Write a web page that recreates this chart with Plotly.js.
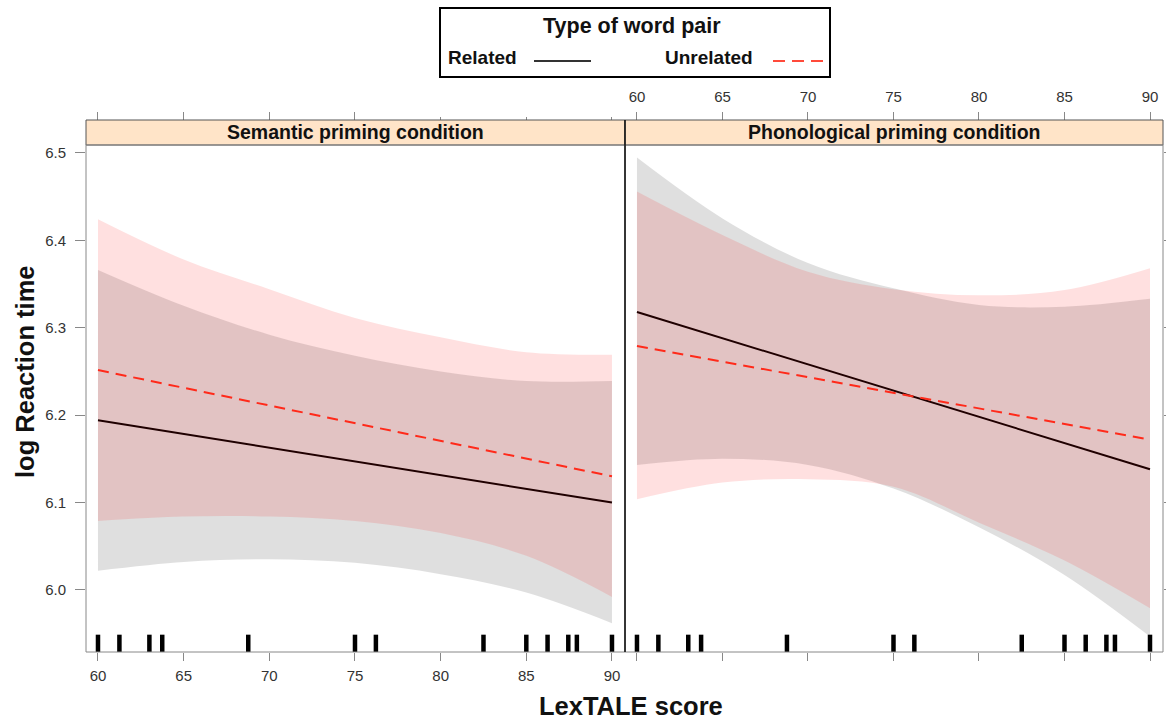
<!DOCTYPE html>
<html>
<head>
<meta charset="utf-8">
<script src="https://cdn.plot.ly/plotly-3.0.1.min.js"></script>
<style>
  html, body { margin: 0; padding: 0; background: #ffffff; }
  #chart { width: 1166px; height: 722px; }
</style>
</head>
<body>
<div id="chart"></div>
<script>
// ---------------- data ----------------
const panelTitles = ['Semantic priming condition', 'Phonological priming condition'];
const seriesNames = ['Related', 'Unrelated'];
const legendTitle = 'Type of word pair';
const xTitle = 'LexTALE score';
const yTitle = 'log Reaction time';

const xTicks = [60, 65, 70, 75, 80, 85, 90];
const xTicksTopLeftLong = [60, 65, 70, 75];
const xTicksTopLeftShort = [80, 85, 90];
const yTicks = [6.0, 6.1, 6.2, 6.3, 6.4, 6.5];

// x positions where band edges were read
const bandX = [60, 65, 70, 75, 80, 85, 90];
// end points of fitted lines
const lineX = [60, 90];

// Semantic priming condition
const semRelatedLine   = [6.194, 6.100];
const semUnrelatedLine = [6.2515, 6.130];
const semRelatedUpper   = [6.366, 6.325, 6.292, 6.268, 6.250, 6.239, 6.239];
const semRelatedLower   = [6.022, 6.032, 6.035, 6.031, 6.018, 5.997, 5.962];
const semUnrelatedUpper = [6.424, 6.378, 6.344, 6.311, 6.289, 6.272, 6.269];
const semUnrelatedLower = [6.079, 6.084, 6.084, 6.079, 6.065, 6.039, 5.992];

// Phonological priming condition
const phoRelatedLine   = [6.318, 6.138];
const phoUnrelatedLine = [6.279, 6.172];
const phoRelatedUpper   = [6.4946, 6.425, 6.374, 6.345, 6.326, 6.324, 6.333];
const phoRelatedLower   = [6.143, 6.150, 6.143, 6.116, 6.0717, 6.017, 5.9466];
const phoUnrelatedUpper = [6.4557, 6.406, 6.364, 6.344, 6.337, 6.343, 6.368];
const phoUnrelatedLower = [6.1037, 6.1228, 6.1266, 6.118, 6.077, 6.0336, 5.979];

// rug of observed LexTALE scores
const rugScores = [60, 61.25, 63.0, 63.75, 68.77, 75, 76.22, 82.5, 85, 86.24, 87.45, 87.95, 90];

// ---------------- styling ----------------
const W = 1166, H = 722;
const px = v => v / W;
const py = v => 1 - v / H;
const FONT = 'Liberation Sans, Arial, sans-serif';
const GRAY_FILL = 'rgba(128,128,128,0.25)';
const PINK_FILL = 'rgba(255,0,0,0.12)';
const REL_COLOR = '#000000';
const UNREL_COLOR = '#ff2a1a';
const RUG_LEVEL = 5.9376;
const xRange = [59.3, 90.76];
const yRange = [5.929, 6.509];

const panelL = [86, 625], panelR = [625, 1163];
const panelTop = 145, panelBottom = 652, stripTop = 120;

function panelTraces(xa, ya, relLine, unrelLine, relUp, relLo, unUp, unLo) {
  const common = { xaxis: xa, yaxis: ya, showlegend: false, hoverinfo: 'skip' };
  const edge = { width: 0, shape: 'spline', color: 'rgba(0,0,0,0)' };
  return [
    Object.assign({ type: 'scatter', mode: 'lines', x: bandX, y: relLo, line: edge }, common),
    Object.assign({ type: 'scatter', mode: 'lines', x: bandX, y: relUp, fill: 'tonexty',
      fillcolor: GRAY_FILL, line: edge }, common),
    Object.assign({ type: 'scatter', mode: 'lines', x: lineX, y: relLine,
      line: { width: 2, color: REL_COLOR } }, common),
    Object.assign({ type: 'scatter', mode: 'lines', x: bandX, y: unLo, line: edge }, common),
    Object.assign({ type: 'scatter', mode: 'lines', x: bandX, y: unUp, fill: 'tonexty',
      fillcolor: PINK_FILL, line: edge }, common),
    Object.assign({ type: 'scatter', mode: 'lines', x: lineX, y: unrelLine,
      line: { width: 2, color: UNREL_COLOR, dash: '11px,7px' } }, common),
    Object.assign({ type: 'scatter', mode: 'markers', x: rugScores, y: rugScores.map(() => RUG_LEVEL),
      marker: { symbol: 'line-ns-open', size: 14, color: '#000', line: { width: 4.5, color: '#000' } } }, common)
  ];
}

const traces = [].concat(
  panelTraces('x', 'y', semRelatedLine, semUnrelatedLine, semRelatedUpper, semRelatedLower, semUnrelatedUpper, semUnrelatedLower),
  panelTraces('x2', 'y2', phoRelatedLine, phoUnrelatedLine, phoRelatedUpper, phoRelatedLower, phoUnrelatedUpper, phoUnrelatedLower),
  [
    { type: 'scatter', mode: 'markers', x: [75], y: [6.2], xaxis: 'x3', yaxis: 'y', opacity: 0, showlegend: false, hoverinfo: 'skip' },
    { type: 'scatter', mode: 'markers', x: [75], y: [6.2], xaxis: 'x4', yaxis: 'y2', opacity: 0, showlegend: false, hoverinfo: 'skip' }
  ]
);

const tickFont = { family: FONT, size: 15, color: '#333' };
const baseX = {
  range: xRange, tickvals: xTicks, ticks: 'outside', ticklen: 8, tickwidth: 1, tickcolor: '#888',
  showgrid: false, zeroline: false, showline: false, tickfont: tickFont, fixedrange: true
};
const baseY = {
  range: yRange, tickvals: yTicks, tickformat: '.1f', ticks: 'outside', ticklen: 10, tickwidth: 1, tickcolor: '#888',
  showgrid: false, zeroline: false, showline: false, tickfont: tickFont, fixedrange: true,
  domain: [py(panelBottom), py(panelTop)]
};
const dom1 = [px(panelL[0]), px(panelR[0])];
const dom2 = [px(panelL[1]), px(panelR[1])];

const shapes = [];
[0, 1].forEach(i => {
  shapes.push({ type: 'rect', xref: 'paper', yref: 'paper', x0: px(panelL[i]), x1: px(panelR[i]),
    y0: py(panelTop), y1: py(stripTop), fillcolor: '#FFE4C8', line: { color: '#555', width: 1 }, layer: 'above' });
  shapes.push({ type: 'rect', xref: 'paper', yref: 'paper', x0: px(panelL[i]), x1: px(panelR[i]),
    y0: py(panelBottom), y1: py(panelTop), fillcolor: 'rgba(0,0,0,0)', line: { color: '#888', width: 1 }, layer: 'above' });
});
shapes.push({ type: 'line', xref: 'paper', yref: 'paper', x0: px(625), x1: px(625), y0: py(panelBottom), y1: py(stripTop),
  line: { color: '#111', width: 1.5 }, layer: 'above' });
// legend box and keys
shapes.push({ type: 'rect', xref: 'paper', yref: 'paper', x0: px(440), x1: px(830), y0: py(77), y1: py(8),
  line: { color: '#000', width: 2 }, fillcolor: 'rgba(0,0,0,0)' });
shapes.push({ type: 'line', xref: 'paper', yref: 'paper', x0: px(534), x1: px(591), y0: py(61), y1: py(61),
  line: { color: '#333', width: 2 } });
shapes.push({ type: 'line', xref: 'paper', yref: 'paper', x0: px(773), x1: px(823), y0: py(61), y1: py(61),
  line: { color: '#ff4a3a', width: 2, dash: '12px,7px' } });

function ann(x, y, text, size, extra) {
  return Object.assign({ xref: 'paper', yref: 'paper', x: px(x), y: py(y), text: '<b>' + text + '</b>',
    xanchor: 'center', yanchor: 'middle', showarrow: false,
    font: { family: FONT, size: size, color: '#111' } }, extra || {});
}

const annotations = [
  ann((panelL[0] + panelR[0]) / 2, 132.5, panelTitles[0], 19.5),
  ann((panelL[1] + panelR[1]) / 2, 132.5, panelTitles[1], 19.5),
  ann(25, 372, yTitle, 25.5, { textangle: -90 }),
  ann(631, 706, xTitle, 25.5),
  ann(632, 26, legendTitle, 21.5),
  ann(446, 57, seriesNames[0], 19, { xanchor: 'left' }),
  ann(663, 57, seriesNames[1], 19, { xanchor: 'left' })
];

const layout = {
  width: W, height: H,
  margin: { l: 0, r: 0, t: 0, b: 0 },
  paper_bgcolor: '#fff', plot_bgcolor: 'rgba(0,0,0,0)',
  showlegend: false,
  xaxis: Object.assign({}, baseX, { domain: dom1, anchor: 'y', ticklabelstandoff: 2 }),
  xaxis2: Object.assign({}, baseX, { domain: dom2, anchor: 'y2', showticklabels: false }),
  xaxis3: Object.assign({}, baseX, { domain: dom1, overlaying: 'x', anchor: 'free', position: py(stripTop), side: 'top',
    showticklabels: false, tickvals: xTicksTopLeftLong,
    minor: { tickvals: xTicksTopLeftShort, ticks: 'outside', ticklen: 3, tickwidth: 1, tickcolor: '#888', showgrid: false } }),
  xaxis4: Object.assign({}, baseX, { domain: dom2, overlaying: 'x2', anchor: 'free', position: py(stripTop), side: 'top',
    ticklabelstandoff: 4 }),
  yaxis: Object.assign({}, baseY, { anchor: 'x', ticklabelstandoff: 6 }),
  yaxis2: Object.assign({}, baseY, { anchor: 'x2', side: 'right', showticklabels: false }),
  shapes: shapes,
  annotations: annotations
};

Plotly.newPlot('chart', traces, layout, { displayModeBar: false, staticPlot: true });
</script>
</body>
</html>
